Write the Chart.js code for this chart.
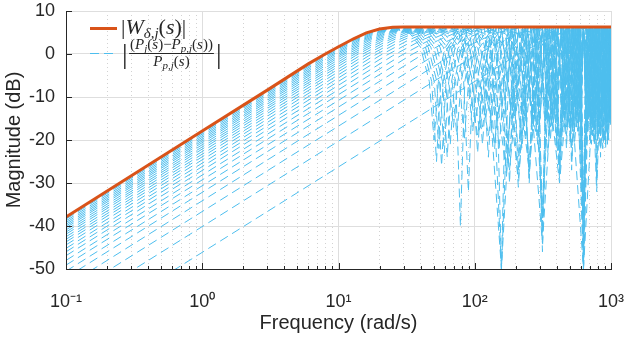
<!DOCTYPE html>
<html lang="en">
<head>
<meta charset="UTF-8" />
<title>Multiplicative uncertainty weight</title>
<script src="https://cdn.jsdelivr.net/npm/chart.js"></script>
<style>
  html, body { margin: 0; padding: 0; background: #fff; }
  canvas { display: block; }
</style>
</head>
<body>
<canvas id="bode" width="629" height="337"></canvas>
<script>
// axis ticks
const freqDecades = [0.1, 1, 10, 100, 1000];
const decadeLabels = ["10\u207B\u00B9", "10\u2070", "10\u00B9", "10\u00B2", "10\u00B3"];
const minorMultipliers = [2, 3, 4, 5, 6, 7, 8, 9];
const magTicks = [-50, -40, -30, -20, -10, 0, 10];

// |W_delta,j(s)|  [rad/s, dB]
const weightMag = [[0.1,-37.9],[1,-17.9],[3,-8.4],[6,-2.3],[8,0.0],[10,1.7],[13,3.6],[16,4.9],[20,5.8],[25,6.2],[30,6.3],[40,6.3],[1000,6.3]];

// |(P_j - P_p,j)/P_p,j|, one array per plant  [rad/s, dB]
const relErr01 = [[0.1,-66.0],[200,-0.4],[320,3.1],[440,5.0],[628,6.0],[840,4.7],[1000,1.6],[1160,-6.4]];
const relErr02 = [[0.1,-60.0],[100,-0.4],[160,3.1],[220,5.0],[314,6.0],[420,4.7],[500,1.6],[580,-6.4],[628,-50],[676,-6.4],[750,1.2],[942,6.0],[1257,-20]];
const relErr03 = [[0.1,-56.5],[66.7,-0.4],[107,3.1],[147,5.0],[209,6.0],[280,4.7],[333,1.6],[387,-6.4],[419,-28],[451,-6.4],[500,1.2],[628,6.0],[838,-22],[1047,6.0]];
const relErr04 = [[0.1,-54.0],[50,-0.4],[80,3.1],[110,5.0],[157,6.0],[210,4.7],[250,1.6],[290,-6.4],[314,-46],[338,-6.4],[375,1.2],[471,6.0],[628,-50],[785,6.0],[942,-20],[1100,6.0]];
const relErr05 = [[0.1,-52.0],[40,-0.4],[64,3.1],[88,5.0],[126,6.0],[168,4.7],[200,1.6],[232,-6.4],[251,-28],[270,-6.4],[300,1.2],[377,6.0],[503,-18],[628,6.0],[754,-21],[880,6.0],[1005,-16]];
const relErr06 = [[0.1,-50.5],[33.3,-0.4],[53.3,3.1],[73.3,5.0],[105,6.0],[140,4.7],[167,1.6],[193,-6.4],[209,-24],[225,-6.4],[250,1.2],[314,6.0],[419,-30],[524,6.0],[628,-36],[733,6.0],[838,-19],[942,6.0],[1047,-22]];
const relErr07 = [[0.1,-49.1],[28.6,-0.4],[45.7,3.1],[62.9,5.0],[89.8,6.0],[120,4.7],[143,1.6],[166,-6.4],[180,-30],[193,-6.4],[214,1.2],[269,6.0],[359,-17],[449,6.0],[539,-21],[628,6.0],[718,-16],[808,6.0],[898,-20],[987,6.0],[1077,-15]];
const relErr08 = [[0.1,-48.0],[25,-0.4],[40,3.1],[55,5.0],[78.5,6.0],[105,4.7],[125,1.6],[145,-6.4],[157,-50],[169,-6.4],[188,1.2],[236,6.0],[314,-44],[393,6.0],[471,-19],[550,6.0],[628,-50],[707,6.0],[785,-32],[864,6.0],[942,-18],[1021,6.0]];
const relErr09 = [[0.1,-46.9],[22.2,-0.4],[35.6,3.1],[48.9,5.0],[69.8,6.0],[93.3,4.7],[111,1.6],[129,-6.4],[140,-22],[150,-6.4],[167,1.2],[209,6.0],[279,-18],[349,6.0],[419,-29],[489,6.0],[559,-15],[628,6.0],[698,-20],[768,6.0],[838,-17],[908,6.0],[977,-14],[1047,6.0]];
const relErr10 = [[0.1,-46.0],[20,-0.4],[32,3.1],[44,5.0],[62.8,6.0],[84,4.7],[100,1.6],[116,-6.4],[126,-24],[135,-6.4],[150,1.2],[188,6.0],[251,-27],[314,6.0],[377,-16],[440,6.0],[503,-19],[565,6.0],[628,-40],[691,6.0],[754,-17],[817,6.0],[880,-21],[942,6.0],[1005,-15]];
const relErr11 = [[0.1,-45.2],[18.2,-0.4],[29.1,3.1],[40,5.0],[57.1,6.0],[76.4,4.7],[90.9,1.6],[105,-6.4],[114,-21],[123,-6.4],[136,1.2],[171,6.0],[228,-16],[286,6.0],[343,-23],[400,6.0],[457,-15],[514,6.0],[571,-18],[628,6.0],[685,-14],[742,6.0],[800,-20],[857,6.0],[914,-16],[971,6.0],[1028,-13]];
const relErr12 = [[0.1,-44.4],[16.7,-0.4],[26.7,3.1],[36.7,5.0],[52.4,6.0],[70,4.7],[83.3,1.6],[96.7,-6.4],[105,-23],[113,-6.4],[125,1.2],[157,6.0],[209,-29],[262,6.0],[314,-38],[367,6.0],[419,-20],[471,6.0],[524,-17],[576,6.0],[628,-46],[681,6.0],[733,-15],[785,6.0],[838,-19],[890,6.0],[942,-16],[995,6.0],[1047,-14]];
const relErr13 = [[0.1,-43.7],[15.4,-0.4],[24.6,3.1],[33.8,5.0],[48.3,6.0],[64.6,4.7],[76.9,1.6],[89.2,-6.4],[96.7,-18],[104,-6.4],[115,1.2],[145,6.0],[193,-14],[242,6.0],[290,-21],[338,6.0],[387,-13],[435,6.0],[483,-17],[532,6.0],[580,-12],[628,6.0],[677,-18],[725,6.0],[773,-14],[822,6.0],[870,-22],[918,6.0],[967,-13],[1015,6.0]];
const relErr14 = [[0.1,-43.1],[14.3,-0.4],[22.9,3.1],[31.4,5.0],[44.9,6.0],[60,4.7],[71.4,1.6],[82.9,-6.4],[89.8,-32],[96.6,-6.4],[107,1.2],[135,6.0],[180,-27],[224,6.0],[269,-16],[314,6.0],[359,-20],[404,6.0],[449,-14],[494,6.0],[539,-18],[583,6.0],[628,-36],[673,6.0],[718,-15],[763,6.0],[808,-19],[853,6.0],[898,-13],[942,6.0],[987,-17],[1032,6.0]];
const relErr15 = [[0.1,-42.5],[13.3,-0.4],[21.3,3.1],[29.3,5.0],[41.9,6.0],[56,4.7],[66.7,1.6],[77.3,-6.4],[83.8,-20],[90.1,-6.4],[100,1.2],[126,6.0],[168,-26],[209,6.0],[251,-25],[293,6.0],[335,-15],[377,6.0],[419,-27],[461,6.0],[503,-16],[545,6.0],[586,-13],[628,6.0],[670,-17],[712,6.0],[754,-21],[796,6.0],[838,-14],[880,6.0],[922,-16],[963,6.0],[1005,-12]];
const relErr16 = [[0.1,-41.9],[12.5,-0.4],[20,3.1],[27.5,5.0],[39.3,6.0],[52.5,4.7],[62.5,1.6],[72.5,-6.4],[78.5,-40],[84.5,-6.4],[93.8,1.2],[118,6.0],[157,-50],[196,6.0],[236,-19],[275,6.0],[314,-42],[353,6.0],[393,-16],[432,6.0],[471,-22],[511,6.0],[550,-14],[589,6.0],[628,-50],[668,6.0],[707,-15],[746,6.0],[785,-30],[825,6.0],[864,-17],[903,6.0],[942,-21],[982,6.0],[1021,-13]];
const relErr17 = [[0.1,-41.4],[11.8,-0.4],[18.8,3.1],[25.9,5.0],[37,6.0],[49.4,4.7],[58.8,1.6],[68.2,-6.4],[73.9,-19],[79.5,-6.4],[88.2,1.2],[111,6.0],[148,-15],[185,6.0],[222,-22],[259,6.0],[296,-14],[333,6.0],[370,-18],[407,6.0],[444,-13],[480,6.0],[517,-25],[554,6.0],[591,-15],[628,6.0],[665,-19],[702,6.0],[739,-13],[776,6.0],[813,-17],[850,6.0],[887,-14],[924,6.0],[961,-20],[998,6.0],[1035,-12]];
const relErr18 = [[0.1,-40.9],[11.1,-0.4],[17.8,3.1],[24.4,5.0],[34.9,6.0],[46.7,4.7],[55.6,1.6],[64.4,-6.4],[69.8,-17],[75.1,-6.4],[83.3,1.2],[105,6.0],[140,-21],[175,6.0],[209,-31],[244,6.0],[279,-16],[314,6.0],[349,-19],[384,6.0],[419,-28],[454,6.0],[489,-14],[524,6.0],[559,-17],[593,6.0],[628,-38],[663,6.0],[698,-15],[733,6.0],[768,-20],[803,6.0],[838,-24],[873,6.0],[908,-14],[942,6.0],[977,-16],[1012,6.0]];
const relErr19 = [[0.1,-40.4],[10.5,-0.4],[16.8,3.1],[23.2,5.0],[33.1,6.0],[44.2,4.7],[52.6,1.6],[61.1,-6.4],[66.1,-21],[71.2,-6.4],[78.9,1.2],[99.2,6.0],[132,-16],[165,6.0],[198,-13],[231,6.0],[265,-18],[298,6.0],[331,-14],[364,6.0],[397,-22],[430,6.0],[463,-13],[496,6.0],[529,-16],[562,6.0],[595,-12],[628,6.0],[661,-19],[695,6.0],[728,-14],[761,6.0],[794,-17],[827,6.0],[860,-13],[893,6.0],[926,-18],[959,6.0],[992,-14],[1025,6.0]];
const relErr20 = [[0.1,-40.0],[10,-0.4],[16,3.1],[22,5.0],[31.4,6.0],[42,4.7],[50,1.6],[58,-6.4],[62.8,-24],[67.6,-6.4],[75,1.2],[94.2,6.0],[126,-19],[157,6.0],[188,-15],[220,6.0],[251,-29],[283,6.0],[314,-37],[346,6.0],[377,-16],[408,6.0],[440,-14],[471,6.0],[503,-21],[534,6.0],[565,-13],[597,6.0],[628,-44],[660,6.0],[691,-15],[723,6.0],[754,-18],[785,6.0],[817,-13],[848,6.0],[880,-20],[911,6.0],[942,-15],[974,6.0],[1005,-13]];
const relErr21 = [[0.1,-39.6],[9.52,-0.4],[15.2,3.1],[21,5.0],[29.9,6.0],[40,4.7],[47.6,1.6],[55.2,-6.4],[59.8,-23],[64.4,-6.4],[71.4,1.2],[89.8,6.0],[120,-15],[150,6.0],[180,-24],[209,6.0],[239,-14],[269,6.0],[299,-17],[329,6.0],[359,-13],[389,6.0],[419,-26],[449,6.0],[479,-15],[509,6.0],[539,-18],[568,6.0],[598,-12],[628,6.0],[658,-16],[688,6.0],[718,-21],[748,6.0],[778,-13],[808,6.0],[838,-19],[868,6.0],[898,-14],[928,6.0],[957,-16],[987,6.0],[1017,-12]];
const relErr22 = [[0.1,-39.2],[9.09,-0.4],[14.5,3.1],[20,5.0],[28.6,6.0],[38.2,4.7],[45.5,1.6],[52.7,-6.4],[57.1,-26],[61.5,-6.4],[68.2,1.2],[85.7,6.0],[114,-17],[143,6.0],[171,-28],[200,6.0],[228,-14],[257,6.0],[286,-19],[314,6.0],[343,-15],[371,6.0],[400,-21],[428,6.0],[457,-13],[485,6.0],[514,-27],[543,6.0],[571,-16],[600,6.0],[628,-34],[657,6.0],[685,-14],[714,6.0],[742,-18],[771,6.0],[800,-13],[828,6.0],[857,-17],[885,6.0],[914,-22],[942,6.0],[971,-14],[999,6.0],[1028,-12]];
const relErr23 = [[0.1,-38.8],[8.7,-0.4],[13.9,3.1],[19.1,5.0],[27.3,6.0],[36.5,4.7],[43.5,1.6],[50.4,-6.4],[54.6,-22],[58.8,-6.4],[65.2,1.2],[82,6.0],[109,-18],[137,6.0],[164,-14],[191,6.0],[219,-20],[246,6.0],[273,-15],[301,6.0],[328,-17],[355,6.0],[382,-13],[410,6.0],[437,-19],[464,6.0],[492,-14],[519,6.0],[546,-16],[574,6.0],[601,-21],[628,6.0],[656,-13],[683,6.0],[710,-17],[738,6.0],[765,-14],[792,6.0],[820,-19],[847,6.0],[874,-13],[902,6.0],[929,-16],[956,6.0],[984,-15],[1011,6.0]];
const relErr24 = [[0.1,-38.4],[8.33,-0.4],[13.3,3.1],[18.3,5.0],[26.2,6.0],[35,4.7],[41.7,1.6],[48.3,-6.4],[52.4,-25],[56.3,-6.4],[62.5,1.2],[78.5,6.0],[105,-19],[131,6.0],[157,-50],[183,6.0],[209,-27],[236,6.0],[262,-15],[288,6.0],[314,-40],[340,6.0],[367,-14],[393,6.0],[419,-23],[445,6.0],[471,-17],[497,6.0],[524,-13],[550,6.0],[576,-18],[602,6.0],[628,-50],[654,6.0],[681,-14],[707,6.0],[733,-19],[759,6.0],[785,-28],[812,6.0],[838,-15],[864,6.0],[890,-13],[916,6.0],[942,-20],[969,6.0],[995,-14],[1021,6.0]];
const relErr25 = [[0.1,-38.1],[8,-0.4],[12.8,3.1],[17.6,5.0],[25.1,6.0],[33.6,4.7],[40,1.6],[46.4,-6.4],[50.3,-20],[54.1,-6.4],[60,1.2],[75.4,6.0],[101,-16],[126,6.0],[151,-22],[176,6.0],[201,-14],[226,6.0],[251,-30],[276,6.0],[302,-15],[327,6.0],[352,-18],[377,6.0],[402,-13],[427,6.0],[452,-17],[478,6.0],[503,-21],[528,6.0],[553,-14],[578,6.0],[603,-16],[628,6.0],[653,-13],[679,6.0],[704,-19],[729,6.0],[754,-15],[779,6.0],[804,-17],[829,6.0],[855,-13],[880,6.0],[905,-20],[930,6.0],[955,-14],[980,6.0],[1005,-16]];

const relErrCurves = [relErr01, relErr02, relErr03, relErr04, relErr05, relErr06, relErr07, relErr08, relErr09, relErr10,
  relErr11, relErr12, relErr13, relErr14, relErr15, relErr16, relErr17, relErr18, relErr19, relErr20,
  relErr21, relErr22, relErr23, relErr24, relErr25];

const ink = "#262626";
const lineBlue = "#4DBEEE";
const lineOrange = "#D95319";
const sans = '"Liberation Sans", Arial, Helvetica, sans-serif';
const serif = '"Liberation Serif", "DejaVu Serif", serif';

const minorFreqs = [];
freqDecades.slice(0, -1).forEach((d) => minorMultipliers.forEach((m) => minorFreqs.push(m * d)));

const datasets = [{
  label: "W",
  data: weightMag,
  borderColor: lineOrange,
  borderWidth: 3,
  order: 0,
}];
relErrCurves.forEach((curve, i) => {
  datasets.push({
    label: "rel" + (i + 1),
    data: curve,
    borderColor: lineBlue,
    borderWidth: 1,
    borderDash: [9, 5],
    order: 1,
  });
});

// legend with the two math labels
function runWidth(ctx, parts) {
  let w = 0;
  parts.forEach(([t, it, size]) => {
    ctx.font = (it ? "italic " : "") + size + "px " + serif;
    w += ctx.measureText(t).width;
  });
  return w;
}
function drawRun(ctx, parts, x, base) {
  let cx = x;
  parts.forEach(([t, it, size, dy]) => {
    ctx.font = (it ? "italic " : "") + size + "px " + serif;
    ctx.fillText(t, cx, base + (dy || 0));
    cx += ctx.measureText(t).width;
  });
  return cx;
}

const mathLegend = {
  id: "mathLegend",
  afterDraw(chart) {
    const ctx = chart.ctx;
    ctx.save();
    ctx.textBaseline = "alphabetic";
    ctx.textAlign = "left";
    ctx.fillStyle = ink;

    ctx.strokeStyle = lineOrange;
    ctx.lineWidth = 3;
    ctx.beginPath();
    ctx.moveTo(90, 28.5);
    ctx.lineTo(117, 28.5);
    ctx.stroke();
    drawRun(ctx, [["|", false, 22], ["W", true, 22], ["\u03B4,j", true, 15, 4], ["(", false, 22], ["s", true, 22], [")", false, 22], ["|", false, 22]], 121, 34);

    ctx.strokeStyle = lineBlue;
    ctx.lineWidth = 1;
    ctx.setLineDash([9, 5]);
    ctx.beginPath();
    ctx.moveTo(90, 53.5);
    ctx.lineTo(117, 53.5);
    ctx.stroke();
    ctx.setLineDash([]);

    const num = [["(", false, 15], ["P", true, 15], ["j", true, 11, 3], ["(", false, 15], ["s", true, 15], [")", false, 15],
      ["\u2212", false, 15], ["P", true, 15], ["p,j", true, 11, 3], ["(", false, 15], ["s", true, 15], [")", false, 15], [")", false, 15]];
    const den = [["P", true, 15], ["p,j", true, 11, 3], ["(", false, 15], ["s", true, 15], [")", false, 15]];
    const cx = 171.5;
    const nw = runWidth(ctx, num);
    const dw = runWidth(ctx, den);
    drawRun(ctx, num, cx - nw / 2, 49);
    drawRun(ctx, den, cx - dw / 2, 66);
    ctx.strokeStyle = ink;
    ctx.beginPath();
    ctx.moveTo(cx - nw / 2 - 1, 53.5);
    ctx.lineTo(cx + nw / 2 + 1, 53.5);
    ctx.stroke();
    drawRun(ctx, [["|", false, 28]], cx - nw / 2 - 8, 63);
    drawRun(ctx, [["|", false, 28]], cx + nw / 2 + 3, 63);
    ctx.restore();
  },
};

// inward tick marks, MATLAB style
const insideTicks = {
  id: "insideTicks",
  afterDatasetsDraw(chart) {
    const { ctx, chartArea: a, scales } = chart;
    const x = scales.x, y = scales.y;
    ctx.save();
    ctx.strokeStyle = ink;
    ctx.lineWidth = 1;
    ctx.beginPath();
    freqDecades.forEach((v) => {
      const px = Math.round(x.getPixelForValue(v)) + 0.5;
      ctx.moveTo(px, a.bottom); ctx.lineTo(px, a.bottom - 6);
    });
    minorFreqs.forEach((v) => {
      const px = Math.round(x.getPixelForValue(v)) + 0.5;
      ctx.moveTo(px, a.bottom); ctx.lineTo(px, a.bottom - 3);
    });
    magTicks.forEach((v) => {
      const py = Math.round(y.getPixelForValue(v)) + 0.5;
      ctx.moveTo(a.left, py); ctx.lineTo(a.left + 6, py);
    });
    ctx.stroke();
    ctx.restore();
  },
};

new Chart(document.getElementById("bode"), {
  type: "line",
  data: { datasets },
  options: {
    responsive: false,
    animation: false,
    events: [],
    layout: { padding: { top: 11, right: 18, left: 0, bottom: 0 } },
    elements: { point: { radius: 0 }, line: { tension: 0 } },
    plugins: { legend: { display: false }, tooltip: { enabled: false } },
    scales: {
      x: {
        type: "logarithmic",
        position: "bottom",
        min: 0.1,
        max: 1000,
        afterBuildTicks: (s) => { s.ticks = freqDecades.map((v) => ({ value: v, major: true })); },
        afterFit: (s) => { s.height = 68; s.paddingLeft = 0; s.paddingRight = 0; },
        ticks: {
          autoSkip: false,
          maxRotation: 0,
          padding: 22,
          color: ink,
          font: { family: sans, size: 18 },
          callback: (v) => { const i = freqDecades.indexOf(v); return i < 0 ? "" : decadeLabels[i]; },
        },
        grid: { color: "#dedede", drawTicks: false },
        border: { color: ink, width: 1, z: 1 },
        title: { display: true, text: "Frequency (rad/s)", color: ink, font: { family: sans, size: 20 }, padding: { top: 0, bottom: 2 } },
      },
      xMinor: {
        type: "logarithmic",
        position: "bottom",
        min: 0.1,
        max: 1000,
        afterBuildTicks: (s) => { s.ticks = minorFreqs.map((v) => ({ value: v })); },
        afterFit: (s) => { s.height = 0; s.paddingLeft = 0; s.paddingRight = 0; },
        ticks: { display: false },
        grid: { color: "#d2d2d2", drawTicks: false },
        border: { display: false, dash: [1, 3] },
      },
      y: {
        type: "linear",
        min: -50,
        max: 10,
        afterBuildTicks: (s) => { s.ticks = magTicks.map((v) => ({ value: v })); },
        afterFit: (s) => { s.width = 66; s.paddingTop = 0; s.paddingBottom = 0; },
        ticks: { padding: 11, color: ink, font: { family: sans, size: 18 } },
        grid: { color: "#dedede", drawTicks: false },
        border: { color: ink, width: 1, z: 1 },
        title: { display: true, text: "Magnitude (dB)", color: ink, font: { family: sans, size: 20 }, padding: { top: 2, bottom: 0 } },
      },
    },
  },
  plugins: [insideTicks, mathLegend],
});
</script>
</body>
</html>
